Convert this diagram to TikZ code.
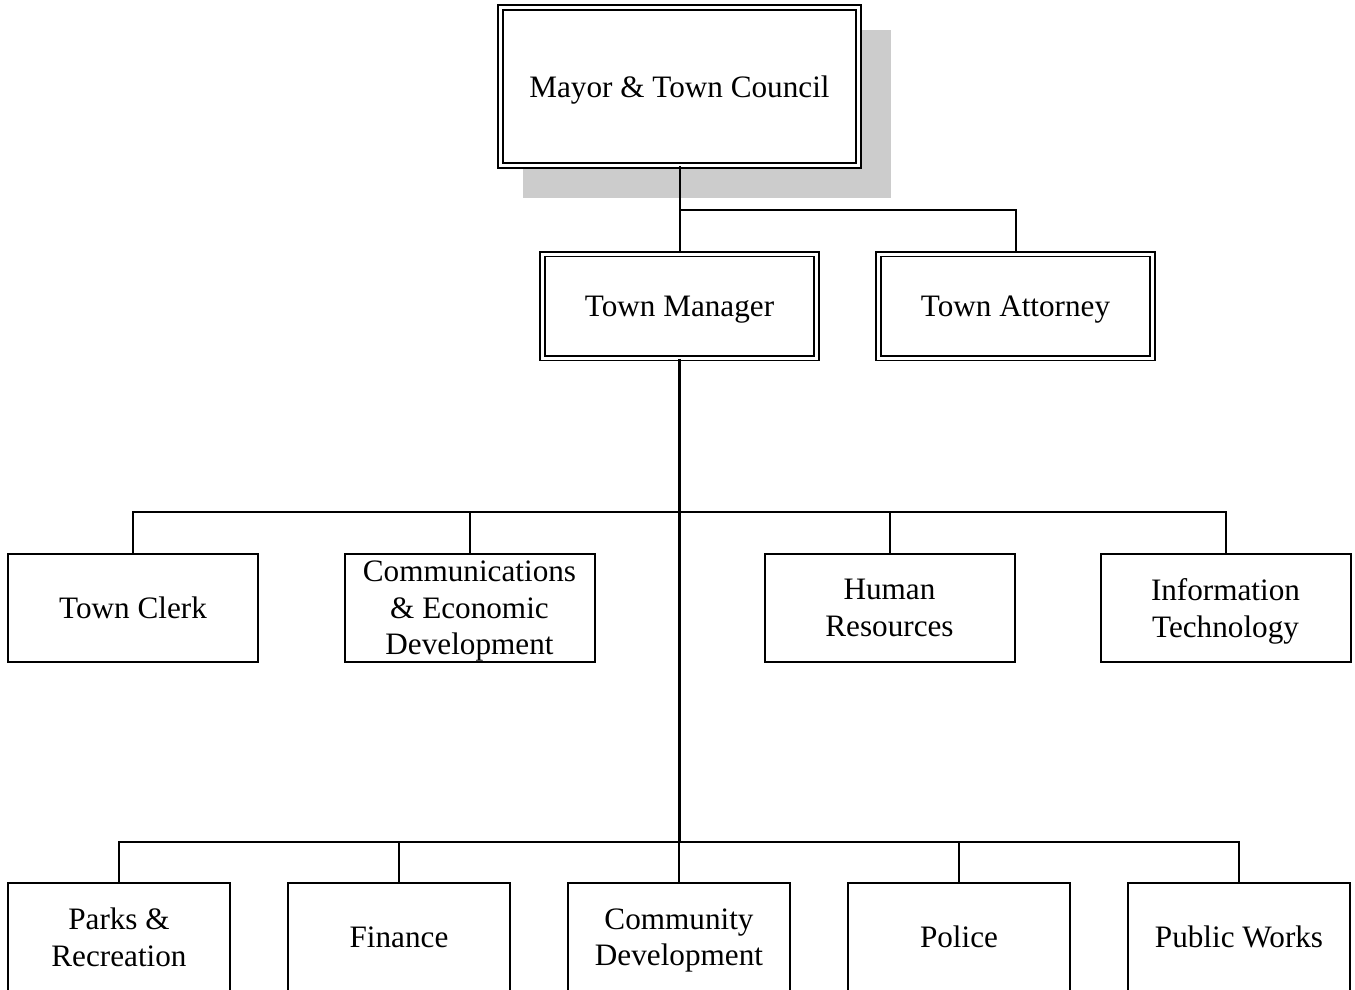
\documentclass[tikz,border=0pt]{standalone}
\usepackage{fontspec}
\setmainfont{Liberation Serif}
\usetikzlibrary{backgrounds}
\definecolor{shadow-gray}{gray}{0.8}
\tikzstyle{deptbox}=[draw,line width=1pt,fill=white,align=center,inner sep=0pt,minimum height=54pt,text depth=0pt,font=\fontsize{15.6}{18.3}\selectfont]
\tikzstyle{widebox}=[deptbox,minimum width=125pt]
\tikzstyle{narrowbox}=[deptbox,minimum width=111pt]
\tikzstyle{headbox}=[deptbox,line width=0.9pt,double=white,double distance=1.5pt]
\tikzstyle{bus}=[line width=1pt]
\tikzstyle{trunk}=[line width=1.5pt]
\begin{document}
\begin{tikzpicture}[x=0.5pt,y=-0.5pt]
	\useasboundingbox (0,0) rectangle (1355,990);
	% council and the two offices under it
	\node[headbox,minimum width=179pt,minimum height=79pt] (council) at (679.5,86.5) {Mayor \& Town Council};
	\node[headbox,minimum width=137pt,minimum height=52pt] (manager) at (679.5,306) {Town Manager};
	\node[headbox,minimum width=137pt,minimum height=52pt] (attorney) at (1015.5,306) {Town Attorney};
	\begin{scope}[on background layer]
		\fill[shadow-gray] ([shift={(11.85pt,-15.65pt)}]council.south west) rectangle ([shift={(15.65pt,-11.85pt)}]council.north east);
	\end{scope}
	% departments reporting to the manager
	\node[widebox] (clerk) at (133,608) {Town Clerk};
	\node[widebox] (comms) at (469.5,608) {Communications\\ \& Economic\\ Development};
	\node[widebox] (hr) at (889.5,608) {Human\\ Resources};
	\node[widebox] (it) at (1225.5,608) {Information\\ Technology};
	\node[narrowbox] (parks) at (119,937) {Parks \&\\ Recreation};
	\node[narrowbox] (finance) at (399,937) {Finance};
	\node[narrowbox] (commdev) at (679,937) {Community\\ Development};
	\node[narrowbox] (police) at (959,937) {Police};
	\node[narrowbox] (works) at (1239,937) {Public Works};
	% connectors
	\coordinate (topbus) at (679.5,210);
	\coordinate (midbus) at (679.5,512);
	\coordinate (lowbus) at (679.5,842);
	\draw[bus] (council.south) -- (manager.north);
	\draw[bus] (topbus) -| (attorney.north);
	\draw[trunk] (manager.south) -- (lowbus);
	\foreach \dept in {clerk,comms,hr,it}
		\draw[bus] (midbus) -| (\dept.north);
	\foreach \dept in {parks,finance,commdev,police,works}
		\draw[bus] (lowbus) -| (\dept.north);
\end{tikzpicture}
\end{document}
